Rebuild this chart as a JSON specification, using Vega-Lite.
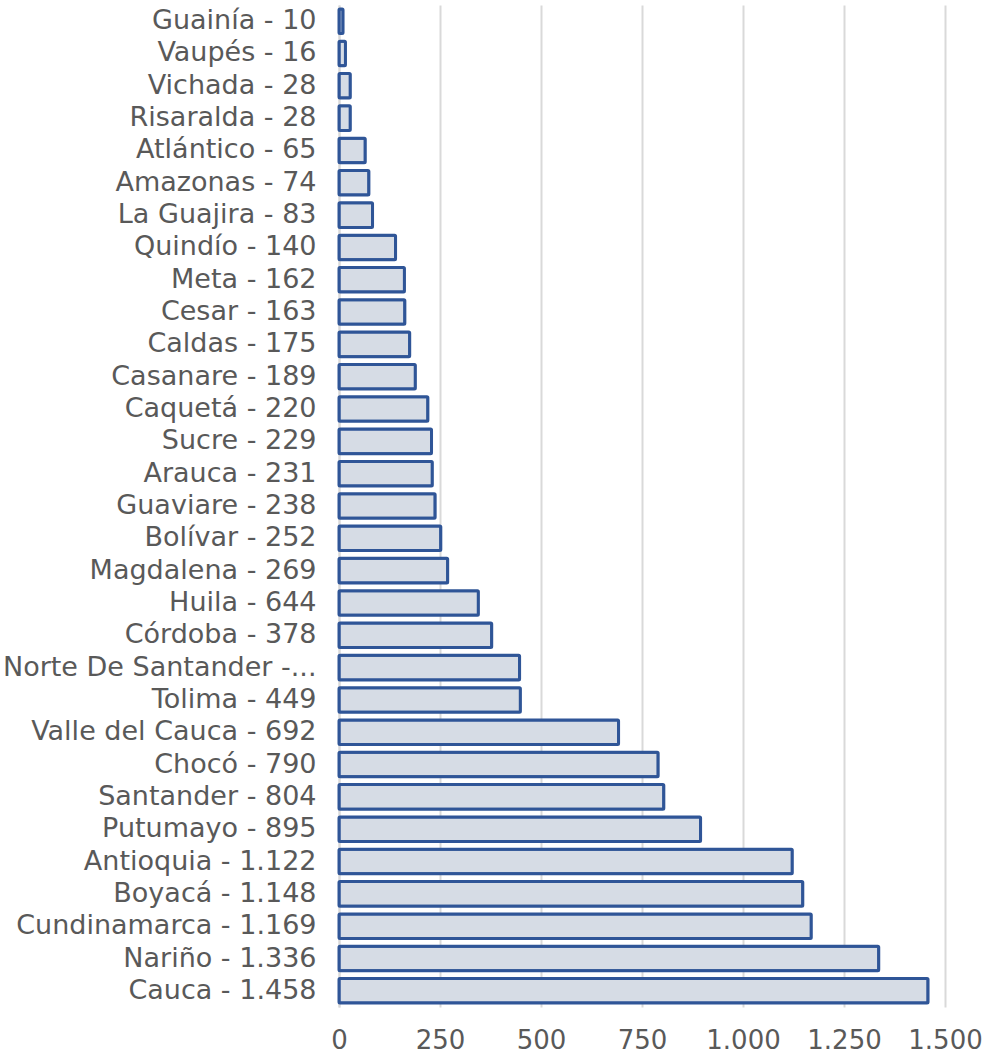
{
  "$schema": "https://vega.github.io/schema/vega-lite/v6.json",
  "autosize": "none",
  "width": 606,
  "height": 1002,
  "padding": {"left": 339, "top": 5, "right": 41, "bottom": 47},
  "background": "white",
  "config": {"view": {"stroke": null}, "font": "DejaVu Sans"},
  "data": {
    "values": [
      {"label": "Guainía - 10", "value": 10},
      {"label": "Vaupés - 16", "value": 16},
      {"label": "Vichada - 28", "value": 28},
      {"label": "Risaralda - 28", "value": 28},
      {"label": "Atlántico - 65", "value": 65},
      {"label": "Amazonas - 74", "value": 74},
      {"label": "La Guajira - 83", "value": 83},
      {"label": "Quindío - 140", "value": 140},
      {"label": "Meta - 162", "value": 162},
      {"label": "Cesar - 163", "value": 163},
      {"label": "Caldas - 175", "value": 175},
      {"label": "Casanare - 189", "value": 189},
      {"label": "Caquetá - 220", "value": 220},
      {"label": "Sucre - 229", "value": 229},
      {"label": "Arauca - 231", "value": 231},
      {"label": "Guaviare - 238", "value": 238},
      {"label": "Bolívar - 252", "value": 252},
      {"label": "Magdalena - 269", "value": 269},
      {"label": "Huila - 644", "value": 345},
      {"label": "Córdoba - 378", "value": 378},
      {"label": "Norte De Santander -...", "value": 447},
      {"label": "Tolima - 449", "value": 449},
      {"label": "Valle del Cauca - 692", "value": 692},
      {"label": "Chocó - 790", "value": 790},
      {"label": "Santander - 804", "value": 804},
      {"label": "Putumayo - 895", "value": 895},
      {"label": "Antioquia - 1.122", "value": 1122},
      {"label": "Boyacá - 1.148", "value": 1148},
      {"label": "Cundinamarca - 1.169", "value": 1169},
      {"label": "Nariño - 1.336", "value": 1336},
      {"label": "Cauca - 1.458", "value": 1458}
    ]
  },
  "mark": {"type": "bar", "fill": "#d6dce5", "stroke": "#2f5597", "strokeWidth": 3, "cornerRadius": 1},
  "encoding": {
    "y": {
      "field": "label", "type": "nominal", "sort": null,
      "scale": {"paddingInner": 0.24, "paddingOuter": 0.12},
      "axis": {
        "title": null, "ticks": false, "domain": true, "domainColor": "#d9d9d9", "domainWidth": 2,
        "labelFont": "DejaVu Sans", "labelFontSize": 27, "labelFontWeight": "normal",
        "labelColor": "#595959", "labelPadding": 23, "labelLimit": 345
      }
    },
    "x": {
      "field": "value", "type": "quantitative",
      "scale": {"domain": [0, 1500], "nice": false},
      "axis": {
        "title": null, "values": [0, 250, 500, 750, 1000, 1250, 1500],
        "labelExpr": "replace(format(datum.value, ','), ',', '.')",
        "grid": true, "gridColor": "#d9d9d9", "gridWidth": 2,
        "domain": false, "ticks": false,
        "labelFont": "DejaVu Sans", "labelFontSize": 26, "labelFontWeight": "normal",
        "labelColor": "#595959", "labelPadding": 20, "labelFlush": false
      }
    }
  }
}
